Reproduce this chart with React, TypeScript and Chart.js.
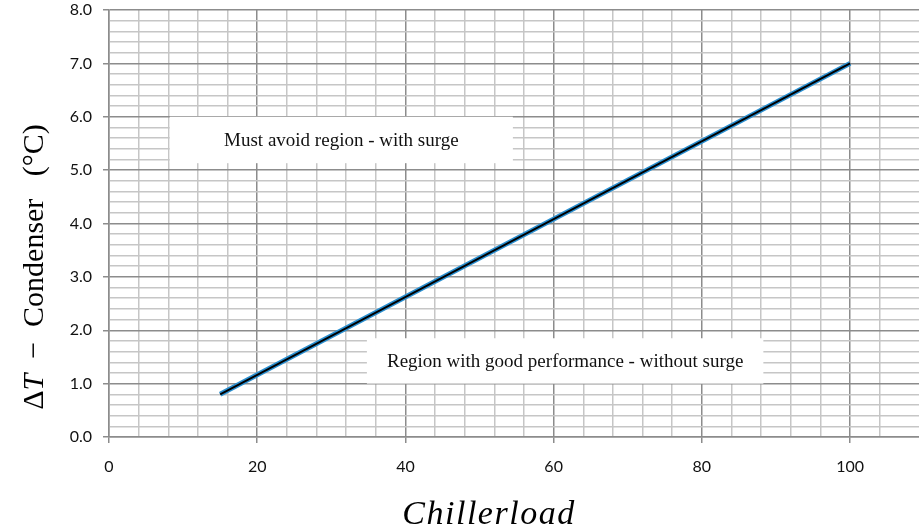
import React, { useEffect, useRef } from "react";
import { Chart, registerables } from "chart.js";
Chart.register(...registerables);

// ---- data ----
const chillerLoad = [15, 100];
const deltaTCondenser = [0.8, 7.0];

// axis ranges / ticks
const xMin = 0;
const xMax = 109.3;
const xGridStep = 4;
const xLabelStep = 20;
const yMin = 0;
const yMax = 8;
const yGridStep = 0.2;
const yLabelStep = 1;

// region annotations (data coordinates)
const regionLabels = [
  "Must avoid region - with surge",
  "Region with good performance - without surge",
];
const regionBoxX = [
  [8.2, 54.5],
  [34.8, 88.3],
];
const regionBoxY = [
  [5.13, 6.0],
  [1.0, 1.85],
];

const xTitle = "Chillerload";
const yTitleParts = [
  { text: "\u0394", italic: false },
  { text: "T", italic: true },
  { text: "  \u2212  Condenser   (\u00B0C)", italic: false },
];

const isMultiple = (v: number, step: number) =>
  Math.abs(v / step - Math.round(v / step)) < 1e-6;

const MAJOR = "#8c8c8c";
const MINOR = "#c6c6c6";

const decorPlugin = {
  id: "decor",
  beforeDatasetsDraw(chart: any) {
    const { ctx, scales } = chart;
    const xs = scales.x;
    const ys = scales.y;
    ctx.save();
    regionLabels.forEach((label, i) => {
      const x0 = xs.getPixelForValue(regionBoxX[i][0]);
      const x1 = xs.getPixelForValue(regionBoxX[i][1]);
      const y0 = ys.getPixelForValue(regionBoxY[i][1]);
      const y1 = ys.getPixelForValue(regionBoxY[i][0]);
      ctx.fillStyle = "#ffffff";
      ctx.fillRect(x0, y0, x1 - x0, y1 - y0);
      ctx.fillStyle = "#111111";
      ctx.font = '19px "Liberation Serif", serif';
      ctx.textAlign = "center";
      ctx.textBaseline = "middle";
      ctx.fillText(label, (x0 + x1) / 2, (y0 + y1) / 2 + 1);
    });
    ctx.restore();
  },
  afterDraw(chart: any) {
    const { ctx } = chart;
    ctx.save();
    // x title
    ctx.fillStyle = "#000";
    ctx.font = 'italic 34px "Liberation Serif", serif';
    ctx.textAlign = "center";
    ctx.textBaseline = "alphabetic";
    try {
      (ctx as any).letterSpacing = "1.5px";
    } catch (e) {}
    ctx.fillText(xTitle, 489, 524);
    try {
      (ctx as any).letterSpacing = "0px";
    } catch (e) {}
    // y title
    ctx.translate(43, 267);
    ctx.rotate(-Math.PI / 2);
    const fontFor = (it: boolean) =>
      (it ? "italic " : "") + '30px "Liberation Serif", serif';
    let total = 0;
    const widths = yTitleParts.map((p) => {
      ctx.font = fontFor(p.italic);
      const w = ctx.measureText(p.text).width;
      total += w;
      return w;
    });
    let x = -total / 2;
    ctx.textAlign = "left";
    yTitleParts.forEach((p, i) => {
      ctx.font = fontFor(p.italic);
      ctx.fillText(p.text, x, 0);
      x += widths[i];
    });
    ctx.restore();
  },
};

export default function App() {
  const canvasRef = useRef<HTMLCanvasElement | null>(null);

  useEffect(() => {
    document.body.style.margin = "0";
    const canvas = canvasRef.current;
    if (!canvas) return;
    const points = chillerLoad.map((x, i) => ({ x, y: deltaTCondenser[i] }));
    const chart = new Chart(canvas, {
      type: "line",
      data: {
        datasets: [
          {
            data: points,
            borderColor: "#000000",
            borderWidth: 2,
            pointRadius: 0,
            fill: false,
            order: 0,
          },
          {
            data: points,
            borderColor: "#2a8fd0",
            borderWidth: 5,
            pointRadius: 0,
            fill: false,
            order: 1,
          },
        ],
      },
      options: {
        animation: false,
        responsive: false,
        maintainAspectRatio: false,
        layout: { padding: { top: 10, left: 0, right: 0, bottom: 0 } },
        plugins: {
          legend: { display: false },
          tooltip: { enabled: false },
        },
        scales: {
          x: {
            type: "linear",
            min: xMin,
            max: xMax,
            afterBuildTicks(scale: any) {
              scale.ticks = scale.ticks.filter((t: any) =>
                isMultiple(t.value, xGridStep)
              );
            },
            afterFit(scale: any) {
              scale.height = 91;
              scale.paddingLeft = 0;
              scale.paddingRight = 0;
            },
            ticks: {
              stepSize: xGridStep,
              autoSkip: false,
              maxRotation: 0,
              padding: 14,
              color: "#111",
              font: { family: "Lato", size: 16 },
              callback: (v: any) =>
                isMultiple(Number(v), xLabelStep) ? String(Math.round(Number(v))) : "",
            },
            grid: {
              color: (c: any) =>
                c.tick && isMultiple(c.tick.value, xLabelStep) ? MAJOR : MINOR,
              tickColor: (c: any) =>
                c.tick && isMultiple(c.tick.value, xLabelStep) ? MAJOR : "rgba(0,0,0,0)",
              lineWidth: 1.5,
              tickLength: 6,
            },
            border: { display: true, color: MAJOR, width: 1.5 },
          },
          y: {
            type: "linear",
            min: yMin,
            max: yMax,
            afterBuildTicks(scale: any) {
              scale.ticks = scale.ticks.filter((t: any) =>
                isMultiple(t.value, yGridStep)
              );
            },
            afterFit(scale: any) {
              scale.width = 109;
              scale.paddingTop = 0;
              scale.paddingBottom = 0;
            },
            ticks: {
              stepSize: yGridStep,
              autoSkip: false,
              padding: 11,
              color: "#111",
              font: { family: "Lato", size: 16 },
              callback: (v: any) =>
                isMultiple(Number(v), yLabelStep) ? Number(v).toFixed(1) : "",
            },
            grid: {
              color: (c: any) =>
                c.tick && isMultiple(c.tick.value, yLabelStep) ? MAJOR : MINOR,
              tickColor: (c: any) =>
                c.tick && isMultiple(c.tick.value, yLabelStep) ? MAJOR : "rgba(0,0,0,0)",
              lineWidth: 1.5,
              tickLength: 6,
            },
            border: { display: true, color: MAJOR, width: 1.5 },
          },
        },
      },
      plugins: [decorPlugin],
    } as any);
    return () => chart.destroy();
  }, []);

  return (
    <div style={{ width: 919, height: 528, background: "#fff" }}>
      <canvas ref={canvasRef} width={919} height={528} style={{ display: "block" }} />
    </div>
  );
}
